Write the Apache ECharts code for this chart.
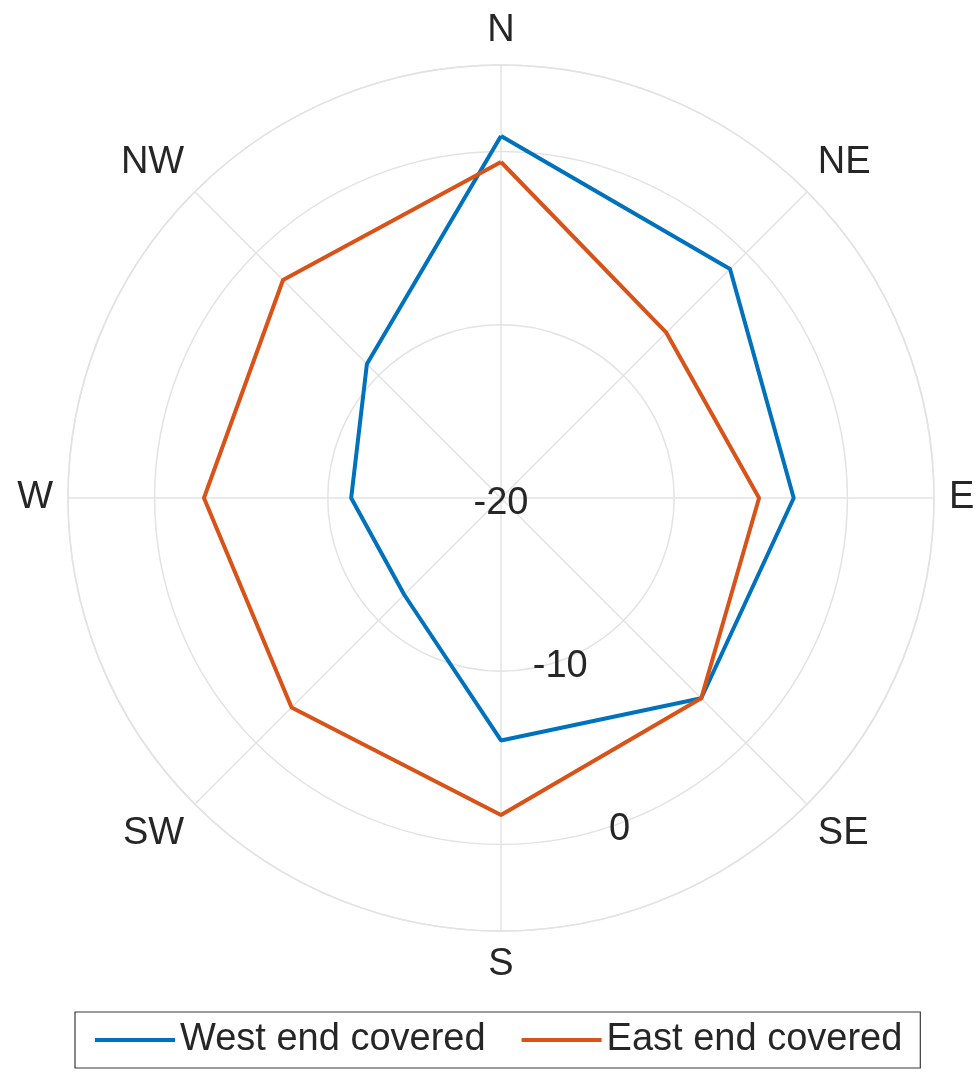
<!DOCTYPE html>
<html>
<head>
<meta charset="utf-8">
<script src="https://cdn.jsdelivr.net/npm/echarts@6/dist/echarts.min.js"></script>
<style>
  html, body { margin: 0; padding: 0; background: #fff; }
  #chart { width: 978px; height: 1076px; }
</style>
</head>
<body>
<div id="chart"></div>
<script>
// compass directions, clockwise from north
var directions = ['N', 'NE', 'E', 'SE', 'S', 'SW', 'W', 'NW'];
var dirAngles = [0, 45, 90, 135, 180, 225, 270, 315];
var westEndCovered = [0.9, -1.3, -3.1, -3.65, -6.0, -12.1, -11.35, -9.05];
var eastEndCovered = [-0.6, -6.5, -5.1, -3.65, -1.7, -2.9, -2.85, -2.2];
var radiusTicks = [-20, -10, 0];

var font = "'Liberation Sans', Arial, sans-serif";
var textColor = '#262626';
var gridColor = '#e3e3e3';

// polygon closes back on the first direction
function loop(values) {
    var out = [];
    for (var i = 0; i < values.length; i++) {
        out.push([values[i], dirAngles[i]]);
    }
    out.push([values[0], 360]);
    return out;
}

var chart = echarts.init(document.getElementById('chart'), null, {renderer: 'canvas'});

var option = {
    backgroundColor: '#fff',
    animation: false,
    textStyle: {fontFamily: font},
    polar: [
        {center: [501, 498], radius: 433},
        {center: [501, 498], radius: 433}
    ],
    angleAxis: [
        {
            polarIndex: 0,
            type: 'value',
            min: 0,
            max: 360,
            interval: 45,
            startAngle: 90,
            clockwise: true,
            axisLine: {lineStyle: {color: gridColor, width: 1.5}},
            axisTick: {show: false},
            splitLine: {lineStyle: {color: gridColor, width: 1.5}},
            axisLabel: {
                margin: 15,
                fontSize: 38,
                color: textColor,
                fontFamily: font,
                formatter: function (v) {
                    var i = dirAngles.indexOf(v);
                    return i >= 0 ? directions[i] : '';
                }
            }
        },
        {
            // only used to place the radius labels off the south spoke
            polarIndex: 1,
            type: 'value',
            min: 0,
            max: 360,
            startAngle: -70,
            clockwise: true,
            axisLine: {show: false},
            axisTick: {show: false},
            splitLine: {show: false},
            axisLabel: {show: false}
        }
    ],
    radiusAxis: [
        {
            polarIndex: 0,
            type: 'value',
            min: -20,
            max: 5,
            interval: 10,
            axisLine: {show: false},
            axisTick: {show: false},
            axisLabel: {show: false},
            splitLine: {lineStyle: {color: gridColor, width: 1.5}}
        },
        {
            polarIndex: 1,
            type: 'value',
            min: -20,
            max: 5,
            interval: 10,
            axisLine: {show: false},
            axisTick: {show: false},
            splitLine: {show: false},
            axisLabel: {
                margin: 0,
                align: 'center',
                verticalAlign: 'top',
                lineHeight: 12,
                fontSize: 38,
                color: textColor,
                fontFamily: font,
                showMaxLabel: false,
                formatter: function (v) {
                    return radiusTicks.indexOf(v) >= 0 ? String(v) : '';
                }
            }
        }
    ],
    legend: {
        left: 75,
        top: 1012,
        padding: [9, 18, 9, 20],
        borderColor: '#3a3a3a',
        borderWidth: 1.2,
        icon: 'rect',
        itemWidth: 80,
        itemHeight: 4,
        itemGap: 36,
        textStyle: {fontSize: 38, color: textColor, fontFamily: font},
        data: ['West end covered', 'East end covered']
    },
    series: [
        {
            name: 'West end covered',
            type: 'line',
            coordinateSystem: 'polar',
            polarIndex: 0,
            symbol: 'none',
            color: '#0072BD',
            lineStyle: {width: 4, color: '#0072BD'},
            data: loop(westEndCovered)
        },
        {
            name: 'East end covered',
            type: 'line',
            coordinateSystem: 'polar',
            polarIndex: 0,
            symbol: 'none',
            color: '#D95319',
            lineStyle: {width: 4, color: '#D95319'},
            data: loop(eastEndCovered)
        }
    ]
};

chart.setOption(option);
</script>
</body>
</html>
